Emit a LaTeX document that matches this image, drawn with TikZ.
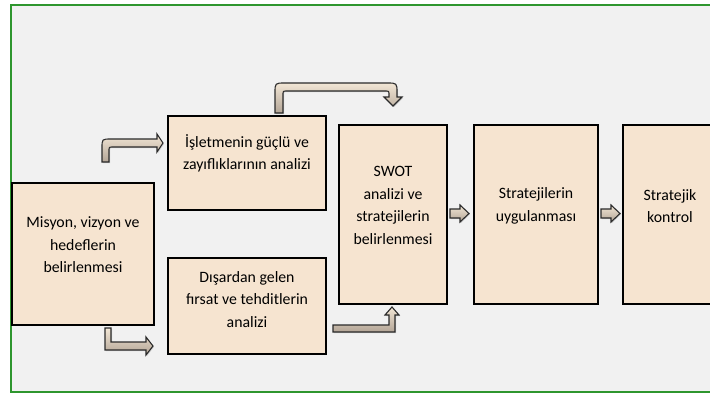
\documentclass[tikz,border=0pt]{standalone}
\usepackage{fontspec}
\setmainfont{Carlito}
\usetikzlibrary{shadows}
\definecolor{bgin}{HTML}{F1F1F1}
\definecolor{boxfill}{HTML}{F6E4D0}
\definecolor{framegreen}{HTML}{2E962E}
\definecolor{arrlight}{HTML}{F2E6D5}
\definecolor{arrdark}{HTML}{B3A596}
\definecolor{arrline}{HTML}{2A2A2A}
\begin{document}
\begin{tikzpicture}[x=1pt,y=-1pt,
  stagebox/.style={draw=black, line width=2.2pt, fill=boxfill, rectangle, inner sep=0pt,
    drop shadow={opacity=0.35, shadow xshift=1pt, shadow yshift=-1pt}},
  stagetext/.style={align=center, inner sep=0pt, font=\fontsize{15.8}{22.5}\selectfont, text=black},
  blockarrow/.style={draw=arrline, line width=1.1pt, top color=arrlight, bottom color=arrdark,
    drop shadow={opacity=0.3, shadow xshift=1pt, shadow yshift=-1pt}}]
\useasboundingbox (0,0) rectangle (710,397);
\clip (0,0) rectangle (710,397);
\fill[white] (0,0) rectangle (710,397);
\draw[framegreen, line width=1.5pt, fill=bgin] (11,5) rectangle (780,392);

% boxes
\node[stagebox, minimum width=142pt, minimum height=142pt] (A) at (83,254) {};
\node[stagebox, minimum width=158pt, minimum height=94pt] (B) at (247,163) {};
\node[stagebox, minimum width=158pt, minimum height=96pt] (C) at (247,306) {};
\node[stagebox, minimum width=108pt, minimum height=179pt] (D) at (393,214.5) {};
\node[stagebox, minimum width=124pt, minimum height=179pt] (E) at (536,214.5) {};
\node[stagebox, minimum width=94pt, minimum height=179pt] (F) at (670,214.5) {};

% texts
\node[stagetext] (At) at (83,245) {Misyon, vizyon ve\\hedeflerin\\belirlenmesi};
\node[stagetext] (Bt) at (247,153.5) {İşletmenin güçlü ve\\zayıflıklarının analizi};
\node[stagetext] (Ct) at (247,299.5) {Dışardan gelen\\fırsat ve tehditlerin\\analizi};
\node[stagetext] (Dt) at (393,205.5) {SWOT\\analizi ve\\stratejilerin\\belirlenmesi};
\node[stagetext] (Et) at (536,206) {Stratejilerin\\uygulanması};
\node[stagetext] (Ft) at (670,206) {Stratejik\\kontrol};

% bent arrow A -> B (up then right, rounded)
\path[blockarrow] (102,162) -- (102,148) .. controls (102,139) .. (111,139) -- (157,139)
  -- (157,134) -- (163,143) -- (157,152) -- (157,147) -- (113,147)
  .. controls (109,147) .. (109,151) -- (109,162) -- cycle;

% bent arrow B -> D (over the top)
\path[blockarrow] (275,113) -- (275,93) .. controls (275,83) .. (285,83) -- (387,83)
  .. controls (397,83) .. (397,93) -- (397,97) -- (402,97) -- (393,106) -- (384,97)
  -- (389,97) -- (389,95) .. controls (389,91) .. (385,91) -- (287,91)
  .. controls (283,91) .. (283,95) -- (283,113) -- cycle;

% bent arrow A -> C (down then right, sharp)
\path[blockarrow] (105,328) -- (105,350) -- (146,350) -- (146,355) -- (153,346)
  -- (146,337) -- (146,342) -- (111,342) -- (111,328) -- cycle;

% bent arrow C -> D (right then up, sharp)
\path[blockarrow] (333,325) -- (389,325) -- (389,315) -- (385,315) -- (392,307)
  -- (399,315) -- (395,315) -- (395,332) -- (333,332) -- cycle;

% D -> E
\path[blockarrow] (450,209) -- (460,209) -- (460,205) -- (469,213.5) -- (460,222)
  -- (460,218) -- (450,218) -- cycle;
% E -> F
\path[blockarrow] (601,209) -- (611,209) -- (611,205) -- (620,213.5) -- (611,222)
  -- (611,218) -- (601,218) -- cycle;
\end{tikzpicture}
\end{document}
